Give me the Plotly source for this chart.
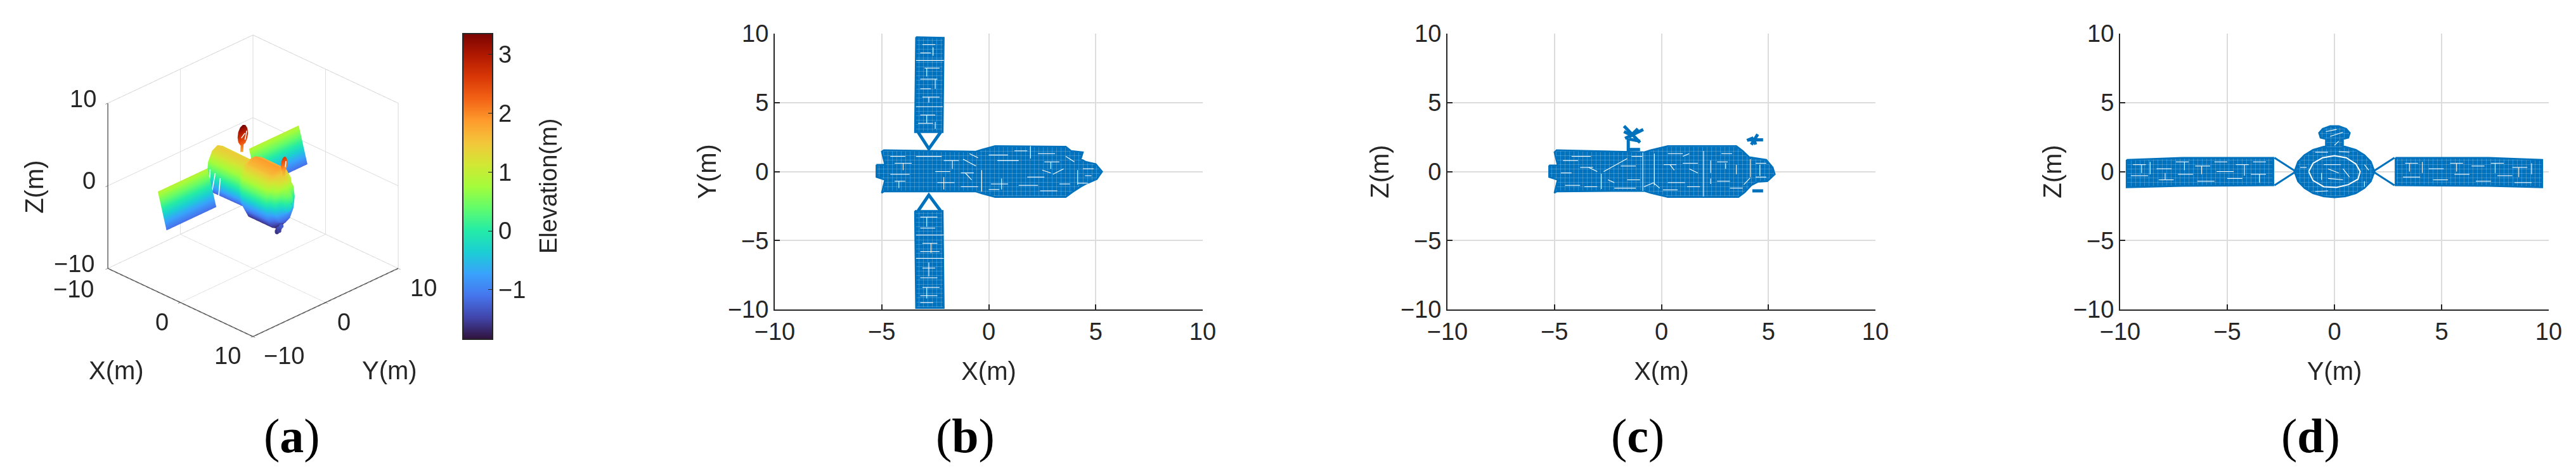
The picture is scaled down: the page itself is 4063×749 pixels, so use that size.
import plotly.graph_objects as go

# chart data
BLUE = '#0072BD'
TICKS = [-10, -5, 0, 5, 10]
CBAR_MIN, CBAR_MAX = -1.84, 3.35
ELEV_STRETCH = 2.0  # panel (a) draws the cloud about twice as tall as its z axis says
PAGE_PAD = 8  # the html body margin moves the figure by this many pixels

# ---- panel (b) X-Y outlines
body_xy_x = [-5.25, -4.85, -5.0, -4.9, -0.6, -0.3, 0.3, 3.6, 3.85, 4.4, 4.3, 4.55, 5.0, 5.3, 5.05, 4.6, 4.3, 3.9, 3.6, 0.3, -0.3, -0.6, -4.9, -5.0, -4.85, -5.25]
body_xy_y = [0.5, 0.5, 1.45, 1.55, 1.45, 1.6, 1.85, 1.8, 1.5, 1.4, 0.9, 0.7, 0.55, 0.0, -0.55, -0.85, -1.1, -1.5, -1.85, -1.85, -1.6, -1.45, -1.45, -1.55, -0.6, -0.4]
panel_top_x = [-3.4, -2.1, -2.15, -3.45]
panel_top_y = [9.75, 9.7, 2.85, 2.85]
panel_bot_x = [-3.45, -2.15, -2.1, -3.4]
panel_bot_y = [-2.85, -2.85, -9.9, -9.9]
strut_top_x = [-3.3, -2.8, -2.25]
strut_top_y = [2.85, 1.65, 2.85]
strut_bot_x = [-3.3, -2.8, -2.25]
strut_bot_y = [-2.85, -1.7, -2.85]
gaps_b = [
    (-3.4, 8.05, -2.1, 8.05), (-3.4, 4.7, -2.15, 4.7), (-3.4, -4.6, -2.1, -4.6), (-3.4, -6.3, -2.1, -6.3),
    (-3.1, 9.2, -2.5, 9.2), (-3.2, 8.6, -2.7, 8.6), (-2.6, 8.4, -2.6, 9.0), (-3.0, 7.5, -2.3, 7.5), (-2.9, 7.5, -2.9, 6.9),
    (-3.2, 6.7, -2.4, 6.7), (-2.5, 6.7, -2.5, 6.0), (-3.2, 6.0, -2.7, 6.0), (-3.1, 5.4, -2.3, 5.4), (-2.8, 5.4, -2.8, 5.0),
    (-3.2, 4.1, -2.5, 4.1), (-2.9, 4.1, -2.9, 3.5), (-3.3, 3.5, -2.6, 3.5), (-2.5, 3.6, -2.5, 3.1),
    (-3.2, -3.3, -2.4, -3.3), (-2.9, -3.3, -2.9, -4.0), (-3.2, -4.1, -2.5, -4.1), (-3.1, -5.2, -2.4, -5.2), (-2.7, -5.2, -2.7, -5.9),
    (-3.2, -5.8, -2.3, -5.8), (-3.1, -7.0, -2.5, -7.0), (-2.8, -6.6, -2.8, -7.6), (-3.2, -7.7, -2.4, -7.7),
    (-3.1, -8.4, -2.3, -8.4), (-2.9, -8.4, -2.9, -9.2), (-3.2, -9.0, -2.4, -9.0), (-3.2, -9.5, -2.6, -9.5),
    (-0.33, 0.1, -0.33, -1.45), (1.95, 0.95, 1.95, 1.85), (4.15, 0.1, 4.15, -0.95), (4.15, -0.85, 4.65, -0.85),
    (-4.6, 1.1, -3.9, 1.1), (-4.4, 0.6, -3.6, 0.6), (-4.0, 0.6, -4.0, 0.1), (-4.6, -0.2, -3.7, -0.2), (-4.4, -0.7, -3.9, -0.7), (-4.2, -0.7, -4.2, -1.2),
    (-3.4, 1.1, -2.2, 1.1), (-2.1, 0.8, -1.4, 0.8), (-1.7, 0.8, -1.7, 0.2), (-2.5, 0.0, -1.8, 0.0), (-2.4, -0.8, -1.6, -0.8), (-2.1, -0.4, -2.1, -1.3),
    (-1.2, 0.9, -0.6, 0.4), (-1.3, -0.1, -0.7, -0.1), (-1.1, -0.1, -0.8, -0.6), (-1.3, -1.1, -0.5, -1.1), (-0.9, 1.3, -0.5, 1.0),
    (0.0, 1.2, 0.9, 1.2), (0.4, 0.8, 1.4, 0.8), (0.1, -0.9, 0.9, -0.9), (0.6, -0.5, 0.6, -1.3), (0.0, -1.3, 0.5, -1.3),
    (1.2, 1.5, 1.8, 1.5), (1.4, -1.0, 2.3, -1.0), (1.8, -0.4, 2.6, -0.4), (2.3, 1.3, 3.1, 1.3), (2.6, 0.7, 3.3, 0.7), (2.9, 0.7, 2.9, 0.2),
    (2.4, -1.4, 3.2, -1.4), (3.0, -0.2, 3.5, 0.2), (2.5, 0.1, 2.9, -0.1), (3.3, -0.9, 3.8, -0.9), (3.6, 1.1, 4.0, 0.7), (4.4, 0.2, 4.9, 0.2), (4.5, -0.3, 4.8, -0.3),
]

# ---- panel (c) X-Z outlines
body_xz_x = [-5.25, -4.85, -5.0, -4.9, -0.8, -0.5, 0.3, 3.5, 3.8, 4.1, 4.9, 5.2, 5.3, 4.95, 4.5, 4.2, 3.9, 3.6, 0.3, -0.5, -0.8, -4.9, -5.0, -4.85, -5.25]
body_xz_z = [0.45, 0.45, 1.4, 1.55, 1.4, 1.55, 1.85, 1.85, 1.5, 1.05, 0.85, 0.3, -0.2, -0.7, -0.75, -1.0, -1.5, -1.85, -1.85, -1.55, -1.4, -1.45, -1.55, -0.6, -0.4]
antenna_c_x = [-1.55, -1.55, None, -1.75, -1.0, None, -1.7, -0.85, None, -1.75, -1.35, None, -1.5, -1.1, None, -1.5, -1.0, None, 4.05, 4.75, None, 4.2, 4.5, None, 4.0, 4.3, None, 4.3, 4.4, None, 4.25, 4.75, None, -1.5, -1.0]
antenna_c_z = [1.4, 2.4, None, 3.3, 2.1, None, 2.4, 3.05, None, 2.9, 2.6, None, 2.5, 3.1, None, 2.35, 2.2, None, 2.3, 2.3, None, 1.95, 2.7, None, 2.25, 2.45, None, 2.45, 1.95, None, -1.4, -1.4, None, 1.6, 1.6]
gaps_c = [
    (-2.81, -0.16, -2.81, -1.26), (-0.87, 1.38, -0.87, -1.4), (-0.33, 1.3, -0.33, -1.0), (1.97, 1.5, 1.97, -1.8), (4.15, 0.9, 4.15, -0.4),
    (-2.7, 0.0, -1.6, 0.94), (-0.82, -1.1, -0.37, -0.82), (-0.37, -0.82, -0.08, -1.2), (0.07, -1.33, 0.76, -1.33), (4.15, -0.45, 3.85, -0.95),
    (-4.6, 0.8, -3.9, 0.8), (-4.5, -1.0, -3.8, -1.0), (-4.7, -0.1, -4.2, -0.1), (-3.8, 0.3, -3.2, 0.3), (-3.4, 0.3, -3.0, 0.0), (-4.2, 1.1, -3.3, 1.1),
    (-3.6, -1.1, -3.0, -1.1), (-2.5, -0.6, -2.2, -0.8), (-1.9, 0.4, -1.2, 0.4), (-1.6, -0.6, -1.0, -0.6), (-1.4, 1.1, -0.9, 1.1), (-2.2, -1.2, -1.2, -1.2),
    (0.1, 0.5, 0.7, 0.5), (0.4, 0.5, 0.6, 0.1), (1.0, 0.6, 1.7, 0.6), (1.3, 0.2, 1.7, -0.1), (0.3, -0.8, 1.1, -0.8), (1.2, -1.1, 1.8, -1.1), (0.3, 1.3, 1.0, 1.3), (1.0, 1.1, 1.3, 1.3),
    (2.3, 0.8, 2.3, -0.1), (2.3, -0.5, 2.3, -0.9), (2.6, 0.7, 3.1, 0.7), (3.0, 0.6, 3.0, 0.2), (2.6, -0.7, 3.2, -0.7), (2.8, 1.3, 3.3, 1.3), (3.5, 0.5, 3.5, -0.2), (3.2, -1.2, 3.8, -1.2),
    (4.4, 0.6, 4.9, 0.6), (4.6, 0.5, 4.6, -0.3), (4.4, -0.4, 4.9, -0.4),
]

# ---- panel (d) Y-Z outlines
wing_l_y = [-9.7, -7.1, -2.85, -2.85, -7.1, -9.7]
wing_l_z = [0.85, 1.0, 1.0, -1.0, -1.05, -1.15]
wing_r_y = [2.85, 7.2, 9.7, 9.7, 7.2, 2.85]
wing_r_z = [1.0, 1.0, 0.85, -1.15, -1.05, -1.0]
strut_l_y = [-2.8, -1.8, -2.8]
strut_l_z = [1.0, 0.0, -1.0]
strut_r_y = [2.8, 1.8, 2.8]
strut_r_z = [1.0, 0.0, -1.0]
hull_y = [0.0, 0.5, 1.0, 1.4, 1.7, 1.87, 1.7, 1.4, 1.0, 0.5, 0.0, -0.5, -1.0, -1.4, -1.7, -1.87, -1.7, -1.4, -1.0, -0.5]
hull_z = [1.87, 1.8, 1.58, 1.2, 0.72, 0.0, -0.72, -1.2, -1.58, -1.8, -1.87, -1.8, -1.58, -1.2, -0.72, 0.0, 0.72, 1.2, 1.58, 1.8]
dish_y = [-0.4, -0.4, -0.65, -0.72, -0.55, -0.2, 0.2, 0.55, 0.72, 0.65, 0.4, 0.4]
dish_z = [1.7, 2.35, 2.45, 2.8, 3.1, 3.3, 3.3, 3.1, 2.8, 2.45, 2.35, 1.7]
ring_d_y = [-1.2, -1.0, -0.55, 0.0, 0.55, 1.0, 1.2, 1.1, 0.65, 0.1, -0.5, -1.0, -1.2]
ring_d_z = [0.0, 0.6, 1.0, 1.15, 1.0, 0.55, 0.0, -0.55, -0.95, -1.15, -1.1, -0.65, 0.0]
gaps_d = [
    (-9.4, 0.5, -8.8, 0.5), (-9.0, 0.5, -9.0, -0.1), (-9.5, -0.3, -8.7, -0.3), (-8.6, 0.7, -8.6, -0.2), (-8.3, 0.2, -7.6, 0.2), (-8.2, -0.6, -7.5, -0.6), (-7.9, -0.1, -7.9, -0.6),
    (-7.4, 0.7, -6.8, 0.7), (-7.0, 0.7, -7.0, 0.1), (-7.3, -0.2, -6.6, -0.2), (-6.5, 0.4, -5.8, 0.4), (-6.2, 0.4, -6.2, -0.2), (-6.4, -0.7, -5.6, -0.7), (-5.6, 0.7, -5.0, 0.7),
    (-5.5, 0.0, -4.7, 0.0), (-5.0, -0.5, -4.3, -0.5), (-4.6, 0.5, -4.0, 0.5), (-4.2, 0.5, -4.2, -0.3), (-3.8, 0.7, -3.2, 0.7), (-3.9, -0.2, -3.2, -0.2), (-3.5, -0.2, -3.5, -0.8),
    (3.3, 0.6, 3.9, 0.6), (3.5, 0.6, 3.5, 0.0), (3.2, -0.4, 4.0, -0.4), (4.1, 0.7, 4.1, -0.1), (4.4, 0.2, 5.1, 0.2), (4.6, -0.6, 5.3, -0.6), (5.4, 0.6, 6.0, 0.6), (5.7, 0.6, 5.7, 0.0),
    (5.6, -0.2, 6.3, -0.2), (6.4, 0.4, 7.0, 0.4), (6.6, -0.7, 7.3, -0.7), (7.3, 0.6, 7.9, 0.6), (7.5, 0.6, 7.5, -0.1), (7.6, -0.3, 8.3, -0.3), (8.3, 0.3, 9.0, 0.3), (8.6, 0.3, 8.6, -0.4), (8.4, -0.8, 9.2, -0.8), (9.2, 0.6, 9.2, -0.2),
    (-0.5, 0.5, 0.3, 0.5), (-0.6, -0.1, -0.6, -0.6), (-0.3, 0.2, 0.2, -0.1), (0.4, 0.2, 0.7, -0.4), (-0.3, -0.5, 0.4, -0.6), (-0.4, 2.9, 0.1, 3.05), (-0.2, 2.55, 0.4, 2.85), (0.2, 2.2, 0.0, 1.9),
    (-1.6, 0.3, -1.3, 0.3), (1.4, 0.5, 1.6, 0.1), (1.4, -0.7, 1.4, -1.1), (-0.9, 1.4, -0.3, 1.4), (0.2, 1.45, 0.7, 1.4), (-0.9, -1.45, -0.3, -1.4),
]

# ---- panel (a) 3D hull and wings, with elevation taken from (b)-(d)
station_x = [-5.25, -4.95, -4.9, -0.6, -0.3, 0.3, 3.6, 3.9, 4.4, 4.55, 5.0, 5.3]
station_r = [0.45, 0.45, 1.45, 1.42, 1.6, 1.85, 1.85, 1.5, 1.35, 0.8, 0.55, 0.08]
section_y = [1.0, 0.87, 0.5, 0.0, -0.5, -0.87, -1.0, -0.87, -0.5, 0.0, 0.5, 0.87, 1.0]
section_e = [0.0, 0.5, 0.87, 1.0, 0.87, 0.5, 0.0, -0.5, -0.87, -1.0, -0.87, -0.5, 0.0]
wing_x = [-3.4, -2.2]
wing_left_y = [-9.7, -2.85]
wing_right_y = [2.85, 9.7]
wing_elev_top = 0.95
wing_elev_bot = -1.15
disc_u = [1.0, 0.87, 0.5, 0.0, -0.5, -0.87, -1.0, -0.87, -0.5, 0.0, 0.5, 0.87, 1.0]
disc_v = [0.0, 0.5, 0.87, 1.0, 0.87, 0.5, 0.0, -0.5, -0.87, -1.0, -0.87, -0.5, 0.0]
stem1_x = [-1.5, -1.45]
stem1_y = [-0.05, 0.0]
stem1_e = [1.75, 2.45]
stem2_x = [4.25, 4.3]
stem2_y = [-0.05, 0.0]
stem2_e = [1.45, 1.95]
debris_x = [4.3, 4.4, 4.5, 4.55, 4.65, 4.75, 4.6, 4.7]
debris_y = [-0.9, -1.1, -1.0, -1.25, -0.95, -1.15, -0.75, -0.8]
debris_e = [-1.55, -1.6, -1.45, -1.6, -1.4, -1.5, -1.35, -1.3]
crack_x = [-3.3, -3.1, None, -3.0, -2.85, None, -2.4, -2.25, None, 3.5, 3.55, None, 3.2, 3.25, None, 3.9, 3.9, None, -1.25, -1.25, None, -1.25, -1.25, None, 4.45, 4.45]
crack_y = [-2.6, -2.9, None, -2.2, -2.8, None, -2.1, -2.5, None, -1.0, -1.4, None, -0.8, -1.5, None, -0.6, -1.2, None, -0.35, 0.15, None, 0.15, 0.4, None, 0.0, 0.1]
crack_e = [0.85, -0.1, None, 0.6, -0.4, None, 0.4, -0.7, None, 1.0, -0.1, None, 0.7, -0.6, None, 0.5, -0.5, None, 2.7, 2.9, None, 2.5, 3.0, None, 2.05, 2.4]
# box corners of the 3D axes: [x, y, z] for each edge
box_dark = [([-10, 10], [-10, -10], [-10, -10]), ([10, 10], [-10, 10], [-10, -10]), ([-10, -10], [-10, -10], [-10, 10])]
box_grey = [([-10, -10], [10, 10], [-10, 10]), ([10, 10], [10, 10], [-10, 10]), ([-10, 10], [10, 10], [10, 10]), ([-10, -10], [-10, 10], [10, 10]),
            ([-10, -10], [-10, 10], [-10, -10]), ([-10, 10], [10, 10], [-10, -10])]

fig = go.Figure()


def px(v):
    return (v - PAGE_PAD) / 4063


def py(v):
    return 1 - (v - PAGE_PAD) / 749


def segments(gaps):
    xs, ys = [], []
    for x1, y1, x2, y2 in gaps:
        xs += [x1, x2, None]
        ys += [y1, y2, None]
    return xs, ys


def add_fill(xs, ys, axis):
    fig.add_trace(go.Scatter(x=xs + xs[:1], y=ys + ys[:1], mode='lines', fill='toself', fillcolor=BLUE,
                             fillpattern=dict(shape='+', size=7, solidity=0.06, fgcolor='white', bgcolor=BLUE, fillmode='replace'),
                             line=dict(color=BLUE, width=2.5), xaxis='x' + axis, yaxis='y' + axis,
                             showlegend=False, hoverinfo='skip'))


def add_line(xs, ys, axis, width=4, color=BLUE, dash=None):
    fig.add_trace(go.Scatter(x=xs, y=ys, mode='lines', line=dict(color=color, width=width, dash=dash),
                             xaxis='x' + axis, yaxis='y' + axis, showlegend=False, hoverinfo='skip'))


# panel b
add_fill(body_xy_x, body_xy_y, '2')
add_fill(panel_top_x, panel_top_y, '2')
add_fill(panel_bot_x, panel_bot_y, '2')
add_line(strut_top_x, strut_top_y, '2', 5)
add_line(strut_bot_x, strut_bot_y, '2', 5)
add_line(*segments(gaps_b), '2', 1.1, 'white')

# panel c
add_fill(body_xz_x, body_xz_z, '3')
add_line(antenna_c_x, antenna_c_z, '3', 5)
add_line(*segments(gaps_c), '3', 1.1, 'white')

# panel d
add_fill(wing_l_y, wing_l_z, '4')
add_fill(wing_r_y, wing_r_z, '4')
add_fill(hull_y, hull_z, '4')
add_fill(dish_y, dish_z, '4')
add_line(strut_l_y, strut_l_z, '4', 3)
add_line(strut_r_y, strut_r_z, '4', 3)
add_line(ring_d_y, ring_d_z, '4', 2, 'white')
add_line(*segments(gaps_d), '4', 1.1, 'white')


# panel a
def add_surface(xg, yg, eg, bar=False):
    colorbar = dict(x=px(730), xanchor='left', y=py(535), yanchor='bottom', thicknessmode='pixels', thickness=47,
                    lenmode='pixels', len=482, ypad=0, xpad=0, ticks='inside', ticklen=8, tickcolor='#262626',
                    tickvals=[-1, 0, 1, 2, 3], outlinecolor='#262626', outlinewidth=2,
                    tickfont=dict(size=38, color='#262626', family='Liberation Sans'))
    fig.add_trace(go.Surface(x=xg, y=yg, z=[[e * ELEV_STRETCH for e in row] for row in eg], surfacecolor=eg,
                             colorscale='Turbo', cmin=CBAR_MIN, cmax=CBAR_MAX, showscale=bar, colorbar=colorbar if bar else None,
                             lighting=dict(ambient=1, diffuse=0, specular=0, roughness=1, fresnel=0),
                             hoverinfo='skip', scene='scene'))


def add_wing(ys):
    add_surface([[wing_x[0], wing_x[0]], [wing_x[1], wing_x[1]]], [ys, ys],
                [[wing_elev_top, wing_elev_top], [wing_elev_bot, wing_elev_bot]])


add_wing(wing_left_y)
add_wing(wing_right_y)
add_surface([[x for _ in section_y] for x in station_x],
            [[r * s for s in section_y] for r in station_r],
            [[r * s for s in section_e] for r in station_r], bar=True)


def add_disc(cx, cy, ce, ry, re):
    add_surface([[cx for _ in disc_u], [cx for _ in disc_u]],
                [[cy for _ in disc_u], [cy + ry * u for u in disc_u]],
                [[ce for _ in disc_u], [ce + re * v for v in disc_v]])


add_disc(-1.4, 0.0, 2.78, 0.72, 0.62)
add_disc(4.3, 0.0, 2.2, 0.45, 0.45)

for sx, sy, se in [(stem1_x, stem1_y, stem1_e), (stem2_x, stem2_y, stem2_e)]:
    fig.add_trace(go.Scatter3d(x=sx, y=sy, z=[e * ELEV_STRETCH for e in se], mode='lines',
                               line=dict(width=9, color=se, colorscale='Turbo', cmin=CBAR_MIN, cmax=CBAR_MAX),
                               showlegend=False, hoverinfo='skip', scene='scene'))
fig.add_trace(go.Scatter3d(x=debris_x, y=debris_y, z=[e * ELEV_STRETCH for e in debris_e], mode='markers',
                           marker=dict(size=4, color=debris_e, colorscale='Turbo', cmin=CBAR_MIN, cmax=CBAR_MAX),
                           showlegend=False, hoverinfo='skip', scene='scene'))
fig.add_trace(go.Scatter3d(x=crack_x, y=crack_y, z=[None if e is None else e * ELEV_STRETCH for e in crack_e], mode='lines',
                           line=dict(width=3, color='white'), showlegend=False, hoverinfo='skip', scene='scene'))
for edges, color, width in [(box_grey, '#d4d4d4', 2), (box_dark, '#262626', 3)]:
    for ex, ey, ez in edges:
        fig.add_trace(go.Scatter3d(x=ex, y=ey, z=ez, mode='lines', line=dict(color=color, width=width),
                                   showlegend=False, hoverinfo='skip', scene='scene'))

GRID = '#dcdcdc'
DARK = '#262626'


def axis2d(domain, anchor, title, standoff):
    return dict(domain=domain, anchor=anchor, range=[-10, 10], tickvals=TICKS, ticks='inside', ticklen=8, tickcolor=DARK, tickwidth=2,
                showline=True, linecolor=DARK, linewidth=2, showgrid=True, gridcolor=GRID, gridwidth=2, zeroline=False, automargin=False,
                tickfont=dict(size=38, color=DARK, family='Liberation Sans'),
                title=dict(text=title, font=dict(size=40, color=DARK, family='Liberation Sans'), standoff=standoff))


Y_DOM = [py(488), py(53)]
layout = dict(width=4063, height=749, margin=dict(l=0, r=0, t=0, b=0, autoexpand=False), paper_bgcolor='white', plot_bgcolor='white', showlegend=False)
for i, (left, right, xt, yt) in enumerate([(1222, 1897, 'X(m)', 'Y(m)'), (2283, 2958, 'X(m)', 'Z(m)'), (3344, 4020, 'Y(m)', 'Z(m)')]):
    n = str(i + 2)
    layout['xaxis' + n] = axis2d([px(left), px(right)], 'y' + n, xt, 28)
    layout['yaxis' + n] = axis2d(Y_DOM, 'x' + n, yt, 6)


def axis3d():
    return dict(range=[-10, 10], tickvals=[-10, 0, 10], showbackground=False, showgrid=True, gridcolor=GRID, gridwidth=2,
                zeroline=False, showline=False, showspikes=False, ticks='outside', ticklen=5, tickcolor=DARK,
                showticklabels=False, title=dict(text=''))


def note(x, y, z, text, dx, dy, angle=0, size=38):
    return dict(x=x, y=y, z=z, text=text, xshift=dx, yshift=dy, textangle=angle, showarrow=False, xanchor='center', yanchor='middle',
                font=dict(size=size, color=DARK, family='Liberation Sans'))


layout['scene'] = dict(domain=dict(x=[px(100), px(698)], y=[py(578), py(8)]),
                       xaxis=axis3d(), yaxis=axis3d(), zaxis=axis3d(),
                       aspectmode='manual', aspectratio=dict(x=1.137, y=1.137, z=1.035),
                       camera=dict(eye=dict(x=1.25, y=-1.25, z=0.94), up=dict(x=0, y=0, z=1), center=dict(x=0, y=0, z=0),
                                   projection=dict(type='orthographic')),
                       annotations=[
                           note(-10, -10, -10, '\u221210', -54, -33), note(0, -10, -10, '0', -29, -31), note(10, -10, -10, '10', -40, -30),
                           note(10, -10, -10, '\u221210', 49, -30), note(10, 0, -10, '0', 29, -31), note(10, 10, -10, '10', 40, -31),
                           note(-10, -10, 10, '10', -39, 7), note(-10, -10, 0, '0', -29, 8), note(-10, -10, -10, '\u221210', -53, 7),
                           note(0, -10, -10, 'X(m)', -101, -107, size=40), note(10, 0, -10, 'Y(m)', 101, -107, size=40),
                           note(-10, -10, 0, 'Z(m)', -116, -2, -90, size=40)])

annos = [dict(text='Elevation(m)', x=px(865), y=py(294), xref='paper', yref='paper', showarrow=False, textangle=-90,
              xanchor='center', yanchor='middle', font=dict(size=38, color=DARK, family='Liberation Sans'))]
for letter, cx in [('a', 460), ('b', 1522), ('c', 2583), ('d', 3644)]:
    annos.append(dict(text='(<b>%s</b>)' % letter, x=px(cx), y=py(687), xref='paper', yref='paper', showarrow=False,
                      xanchor='center', yanchor='middle', font=dict(size=76, color='black', family='Liberation Serif')))
layout['annotations'] = annos
fig.update_layout(**layout)
fig.write_html("out.html")
